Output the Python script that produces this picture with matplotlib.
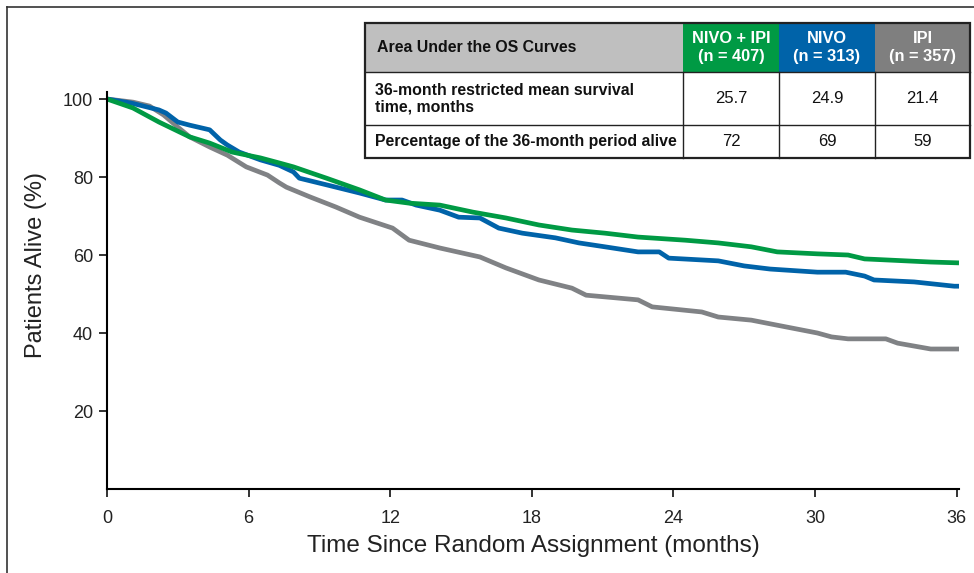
import matplotlib
matplotlib.use("Agg")
import matplotlib.pyplot as plt
from matplotlib.lines import Line2D
from matplotlib.patches import Rectangle

plt.rcParams['font.family'] = ['Liberation Sans', 'DejaVu Sans']

# Kaplan-Meier curves (months, % alive)
nivo_ipi_t = [0, 1.1, 2.2, 3.5, 4.35, 5.3, 6.5, 7.3, 7.9, 9.3, 10.7, 11.8, 12.8, 14.1,
              15.5, 16.9, 18.3, 19.7, 21.1, 22.5, 24.5, 25.9, 27.3, 28.4, 30.1, 31.4,
              32.1, 34.9, 36]
nivo_ipi_v = [100, 97.7, 94.1, 90.3, 88.7, 86.4, 84.9, 83.6, 82.6, 79.7, 76.7, 74.1, 73.3, 72.8,
              71, 69.5, 67.7, 66.4, 65.6, 64.6, 63.8, 63.1, 62.1, 60.8, 60.3, 60,
              59, 58.2, 58]

nivo_t = [0, 1.0, 2.2, 2.5, 3.0, 3.5, 4.35, 4.8, 5.1, 5.6, 6.5, 7.3, 7.9, 8.15, 9.3, 10.7,
          11.8, 12.5, 13.1, 14.1, 14.9, 15.8, 16.6, 17.6, 19.0, 20.0, 21.1, 22.5, 23.4,
          23.8, 25.9, 27.0, 28.1, 30.1, 31.3, 32.1, 32.5, 34.2, 35.9, 36]
nivo_v = [100, 99, 97.2, 96.4, 94.1, 93.3, 92.1, 89.5, 88.2, 86.4, 84.4, 83, 81.3, 79.7, 78, 75.9,
          74.1, 74.1, 72.8, 71.5, 69.7, 69.5, 66.9, 65.6, 64.4, 63.1, 62.1, 60.8, 60.8,
          59.2, 58.5, 57.2, 56.4, 55.6, 55.6, 54.6, 53.6, 53.1, 52, 52]

ipi_t = [0, 1.1, 1.8, 2.4, 3.0, 3.5, 4.35, 5.1, 5.9, 6.8, 7.3, 7.6, 8.6, 9.7, 10.7, 12.1,
         12.8, 14.1, 15.8, 16.9, 18.3, 19.7, 20.3, 22.5, 23.1, 25.2, 25.9, 27.3, 28.4,
         30.1, 30.7, 31.4, 33.0, 33.5, 34.9, 36]
ipi_v = [100, 99.2, 98.2, 95.9, 92.8, 90.3, 87.7, 85.6, 82.6, 80.5, 78.5, 77.4, 74.9, 72.3, 69.7, 66.9,
         63.8, 61.8, 59.5, 56.7, 53.6, 51.5, 49.7, 48.5, 46.7, 45.4, 44.1, 43.3, 42,
         40, 39, 38.5, 38.5, 37.4, 35.9, 35.9]

# table contents
arms = ['NIVO + IPI\n(n = 407)', 'NIVO\n(n = 313)', 'IPI\n(n = 357)']
row_labels = ['36-month restricted mean survival\ntime, months', 'Percentage of the 36-month period alive']
rmst = ['25.7', '24.9', '21.4']
pct_alive = ['72', '69', '59']

green = '#009a44'
blue = '#0063a9'
gray = '#808285'

W, H = 974, 573
fig = plt.figure(figsize=(W / 100, H / 100), dpi=100)

# axes placed by pixel box
ax = fig.add_axes([107 / W, (H - 489) / H, (959 - 107) / W, (489 - 92) / H])
ax.plot(ipi_t, ipi_v, color=gray, lw=3.4)
ax.plot(nivo_t, nivo_v, color=blue, lw=3.4)
ax.plot(nivo_ipi_t, nivo_ipi_v, color=green, lw=3.4)

ax.set_xlim(0, 36.1)
ax.set_ylim(0, 101.8)
ax.set_xticks([0, 6, 12, 18, 24, 30, 36])
ax.set_yticks([20, 40, 60, 80, 100])
ax.spines['top'].set_visible(False)
ax.spines['right'].set_visible(False)
ax.spines['left'].set_linewidth(1.5)
ax.spines['bottom'].set_linewidth(1.5)
ax.tick_params(axis='both', direction='out', length=6, width=1.3, labelsize=13, colors='#222222')
ax.tick_params(axis='x', pad=9)
ax.tick_params(axis='y', pad=4)
ax.set_xlabel('Time Since Random Assignment (months)', fontsize=17.5, color='#222222', labelpad=6)
ax.set_ylabel('Patients Alive (%)', fontsize=17, color='#222222')
ax.yaxis.set_label_coords(-0.07, 0.565)

# figure frame (top and left)
fig.add_artist(Line2D([7 / W, 1], [1 - 7 / H, 1 - 7 / H], color='#333333', lw=1.2))
fig.add_artist(Line2D([7 / W, 7 / W], [0, 1 - 7 / H], color='#333333', lw=1.2))

# table drawn in pixel coordinates
tab = fig.add_axes([0, 0, 1, 1])
tab.set_xlim(0, W)
tab.set_ylim(H, 0)
tab.axis('off')

col_x = [365, 683, 779, 875, 970]
row_y = [23, 72, 125, 158]
head_colors = ['#bfbfbf', green, blue, '#7f7f7f']
for i in range(4):
    tab.add_patch(Rectangle((col_x[i], row_y[0]), col_x[i + 1] - col_x[i], row_y[1] - row_y[0],
                            facecolor=head_colors[i], edgecolor='none'))

tab.text(col_x[0] + 12, (row_y[0] + row_y[1]) / 2, 'Area Under the OS Curves', va='center', ha='left',
         color='#111111', fontsize=11.4, fontweight='bold')
for i, a in enumerate(arms):
    tab.text((col_x[i + 1] + col_x[i + 2]) / 2, (row_y[0] + row_y[1]) / 2, a, va='center', ha='center',
             color='white', linespacing=1.2, fontsize=11.8, fontweight='bold')
for r, (lab, vals) in enumerate(zip(row_labels, [rmst, pct_alive])):
    yc = (row_y[r + 1] + row_y[r + 2]) / 2
    tab.text(col_x[0] + 10, yc, lab, va='center', ha='left', color='#111111', linespacing=1.15,
             fontsize=11.4, fontweight='bold')
    for i, v in enumerate(vals):
        tab.text((col_x[i + 1] + col_x[i + 2]) / 2, yc, v, va='center', ha='center', color='#111111',
                 fontsize=12)

# grid lines of table
for y in row_y[1:3]:
    tab.plot([col_x[0], col_x[-1]], [y, y], color='#222222', lw=1.0)
for x in col_x[1:4]:
    tab.plot([x, x], [row_y[1], row_y[-1]], color='#222222', lw=1.0)
tab.add_patch(Rectangle((col_x[0], row_y[0]), col_x[-1] - col_x[0], row_y[-1] - row_y[0],
                        facecolor='none', edgecolor='#222222', lw=1.6))

fig.savefig('out.png', dpi=100)
